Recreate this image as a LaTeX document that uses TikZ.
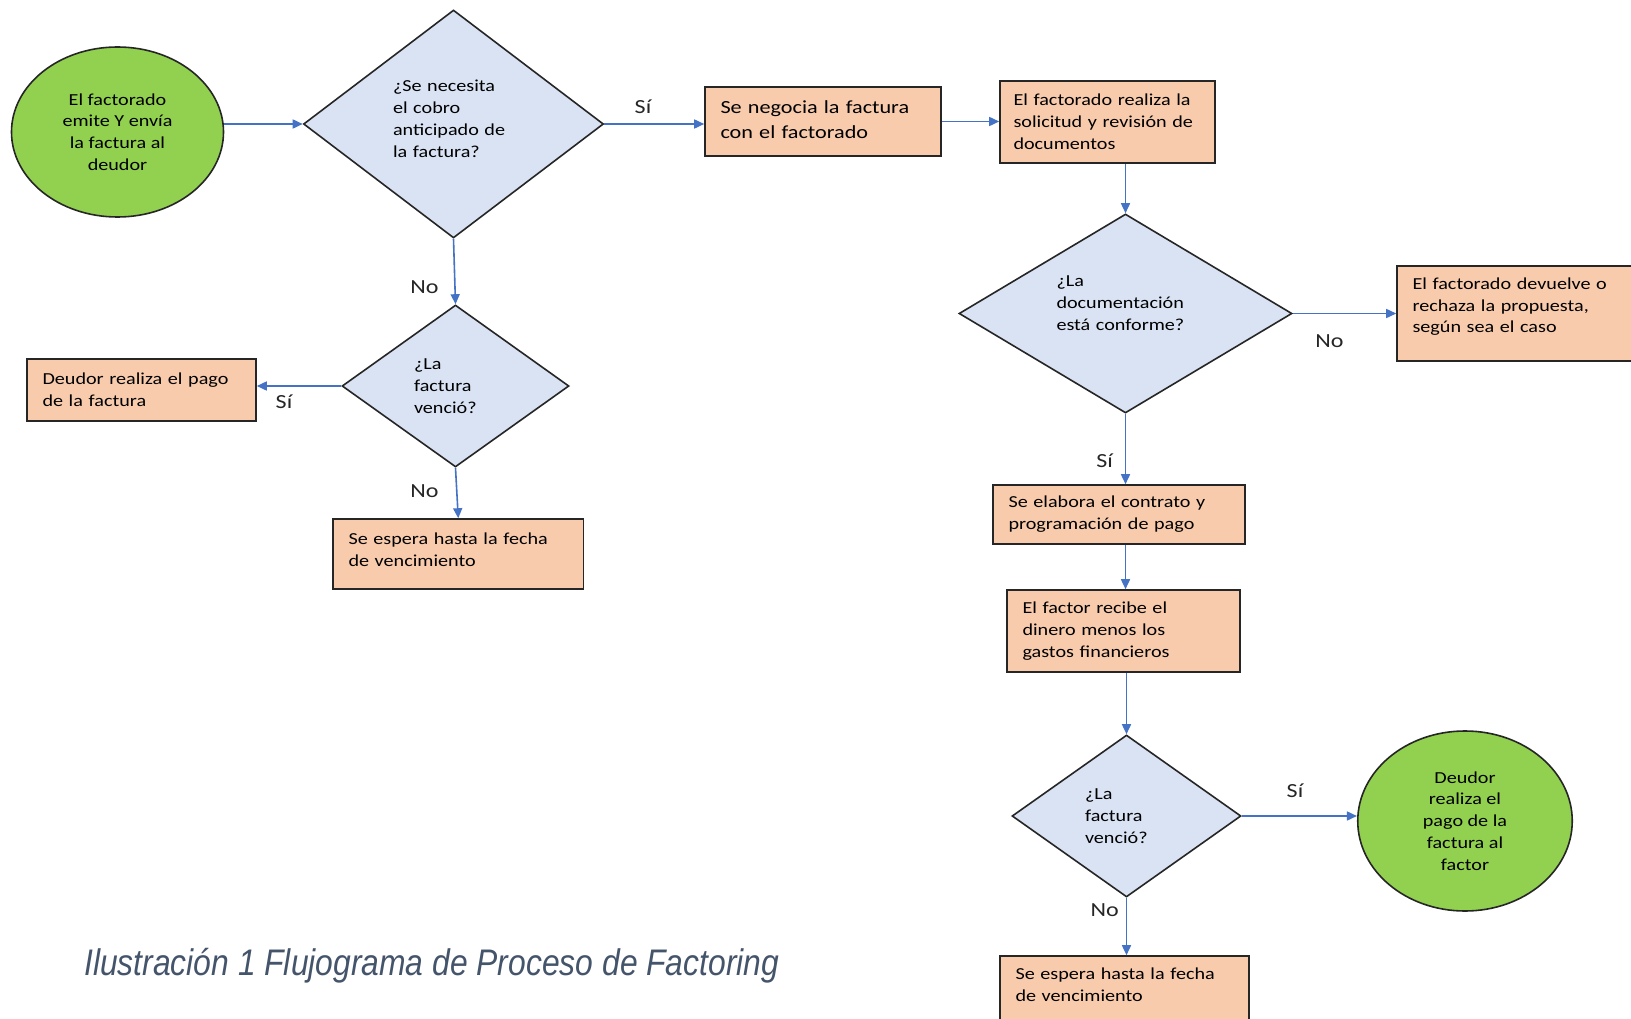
\documentclass[tikz,border=0pt]{standalone}
\usepackage{fontspec}
\newfontfamily\dfont[FakeStretch=1.2]{Carlito}
\newfontfamily\capfont[FakeStretch=0.86]{Liberation Sans}
\usetikzlibrary{shapes.geometric,arrows.meta}
\definecolor{greenf}{HTML}{92D050}
\definecolor{peach}{HTML}{F8CBAD}
\definecolor{lblue}{HTML}{DAE3F3}
\definecolor{arrblue}{HTML}{4472C4}
\definecolor{edgec}{HTML}{262626}
\definecolor{capc}{HTML}{44546A}
\tikzset{
 base/.style={draw=edgec, line width=1.6pt, inner sep=0pt, font=\dfont\fontsize{16.8}{21.8}\selectfont, text=black},
 startend/.style={base, ellipse, fill=greenf, align=center},
 procbox/.style={base, rectangle, fill=peach, align=left},
 decision/.style={base, diamond, fill=lblue, align=left},
 flow/.style={draw=arrblue, line width=1.6pt, -{Triangle[length=10pt,width=9pt]}},
 lbl/.style={font=\dfont\fontsize{20}{24}\selectfont, text=edgec, inner sep=0pt},
}
\begin{document}
\begin{tikzpicture}[x=1pt,y=-1pt]
\useasboundingbox[fill=white] (0,0) rectangle (1631,1019);
% left branch
\node[startend, minimum width=212, minimum height=170] (c1) at (117.5,132) {El factorado\\emite Y envía\\la factura al\\deudor};
\node[decision, minimum width=300, minimum height=228, text width=121, text depth=75.8pt] (d1) at (453.5,124) {¿Se necesita\\el cobro\\anticipado de\\la factura?};
\node[procbox, minimum width=236, minimum height=69, text width=205, text depth=29pt, font=\dfont\fontsize{18.5}{25}\selectfont] (b1) at (823,121.5) {Se negocia la factura\\con el factorado};
\node[procbox, minimum width=215, minimum height=82, text width=188] (b2) at (1107.5,122) {El factorado realiza la\\solicitud y revisión de\\documentos};
\node[decision, minimum width=227, minimum height=162, text width=83] (d2) at (455.5,386) {¿La\\factura\\venció?};
\node[procbox, minimum width=229, minimum height=62, text width=198] (b7) at (141.5,390) {Deudor realiza el pago\\de la factura};
\node[procbox, minimum width=250.5, minimum height=70, text width=219.5, text depth=31.2pt] (b8) at (458.25,554) {Se espera hasta la fecha\\de vencimiento};
% right branch
\node[decision, shape aspect=1.67, minimum width=333, minimum height=199, text width=138, text depth=64.4pt] (d3) at (1125.5,313.5) {¿La\\documentación\\está conforme?};
\node[procbox, minimum width=243, minimum height=95, text width=212, text depth=60.2pt] (b3) at (1518.5,313.5) {El factorado devuelve o\\rechaza la propuesta,\\según sea el caso};
\node[procbox, minimum width=252, minimum height=59, text width=221] (b4) at (1119,514.5) {Se elabora el contrato y\\programación de pago};
\node[procbox, minimum width=233, minimum height=82, text width=202] (b5) at (1123.5,631) {El factor recibe el\\dinero menos los\\gastos financieros};
\node[decision, minimum width=229, minimum height=162, text width=83] (d4) at (1126.5,816) {¿La\\factura\\venció?};
\node[startend, minimum width=214.5, minimum height=180] (c2) at (1465,821) {Deudor\\realiza el\\pago de la\\factura al\\factor};
\node[procbox, minimum width=249, minimum height=70, text width=218, text depth=34.2pt] (b6) at (1124.5,991) {Se espera hasta la fecha\\de vencimiento};
% connectors
\draw[flow] (d1.west -| c1.east) -- (d1.west);
\draw[flow] (d1.east) -- (d1.east -| b1.west);
\draw[flow] (b1.east) -- (b1.east -| b2.west);
\draw[flow] (d3.north |- b2.south) -- (d3.north);
\draw[flow] (d3.east) -- (d3.east -| b3.west);
\draw[flow] (d3.south) -- (d3.south |- b4.north);
\draw[flow] (b4.south -| d3.south) -- (b5.north -| d3.south);
\draw[flow] (b5.south -| d4.north) -- (d4.north);
\draw[flow] (d4.east) -- (d4.east -| c2.west);
\draw[flow] (d4.south) -- (d4.south |- b6.north);
\draw[flow] (d1.south) -- (d2.north);
\draw[flow] (d2.west) -- (d2.west -| b7.east);
\draw[flow] (d2.south) -- (b8.north);
% labels
\node[lbl] (l1) at (643,107) {Sí};
\node[lbl] (l2) at (424.4,287) {No};
\node[lbl] (l3) at (284,401.5) {Sí};
\node[lbl] (l4) at (424.4,491) {No};
\node[lbl] (l5) at (1329.4,341.2) {No};
\node[lbl] (l6) at (1104.7,460.8) {Sí};
\node[lbl] (l7) at (1295,790.6) {Sí};
\node[lbl] (l8) at (1104.7,910) {No};
% caption
\node[anchor=base west, inner sep=0pt, text=capc, font=\capfont\itshape\fontsize{37}{44}\selectfont] (cap) at (84,975.7) {Ilustración 1 Flujograma de Proceso de Factoring};
\end{tikzpicture}
\end{document}
